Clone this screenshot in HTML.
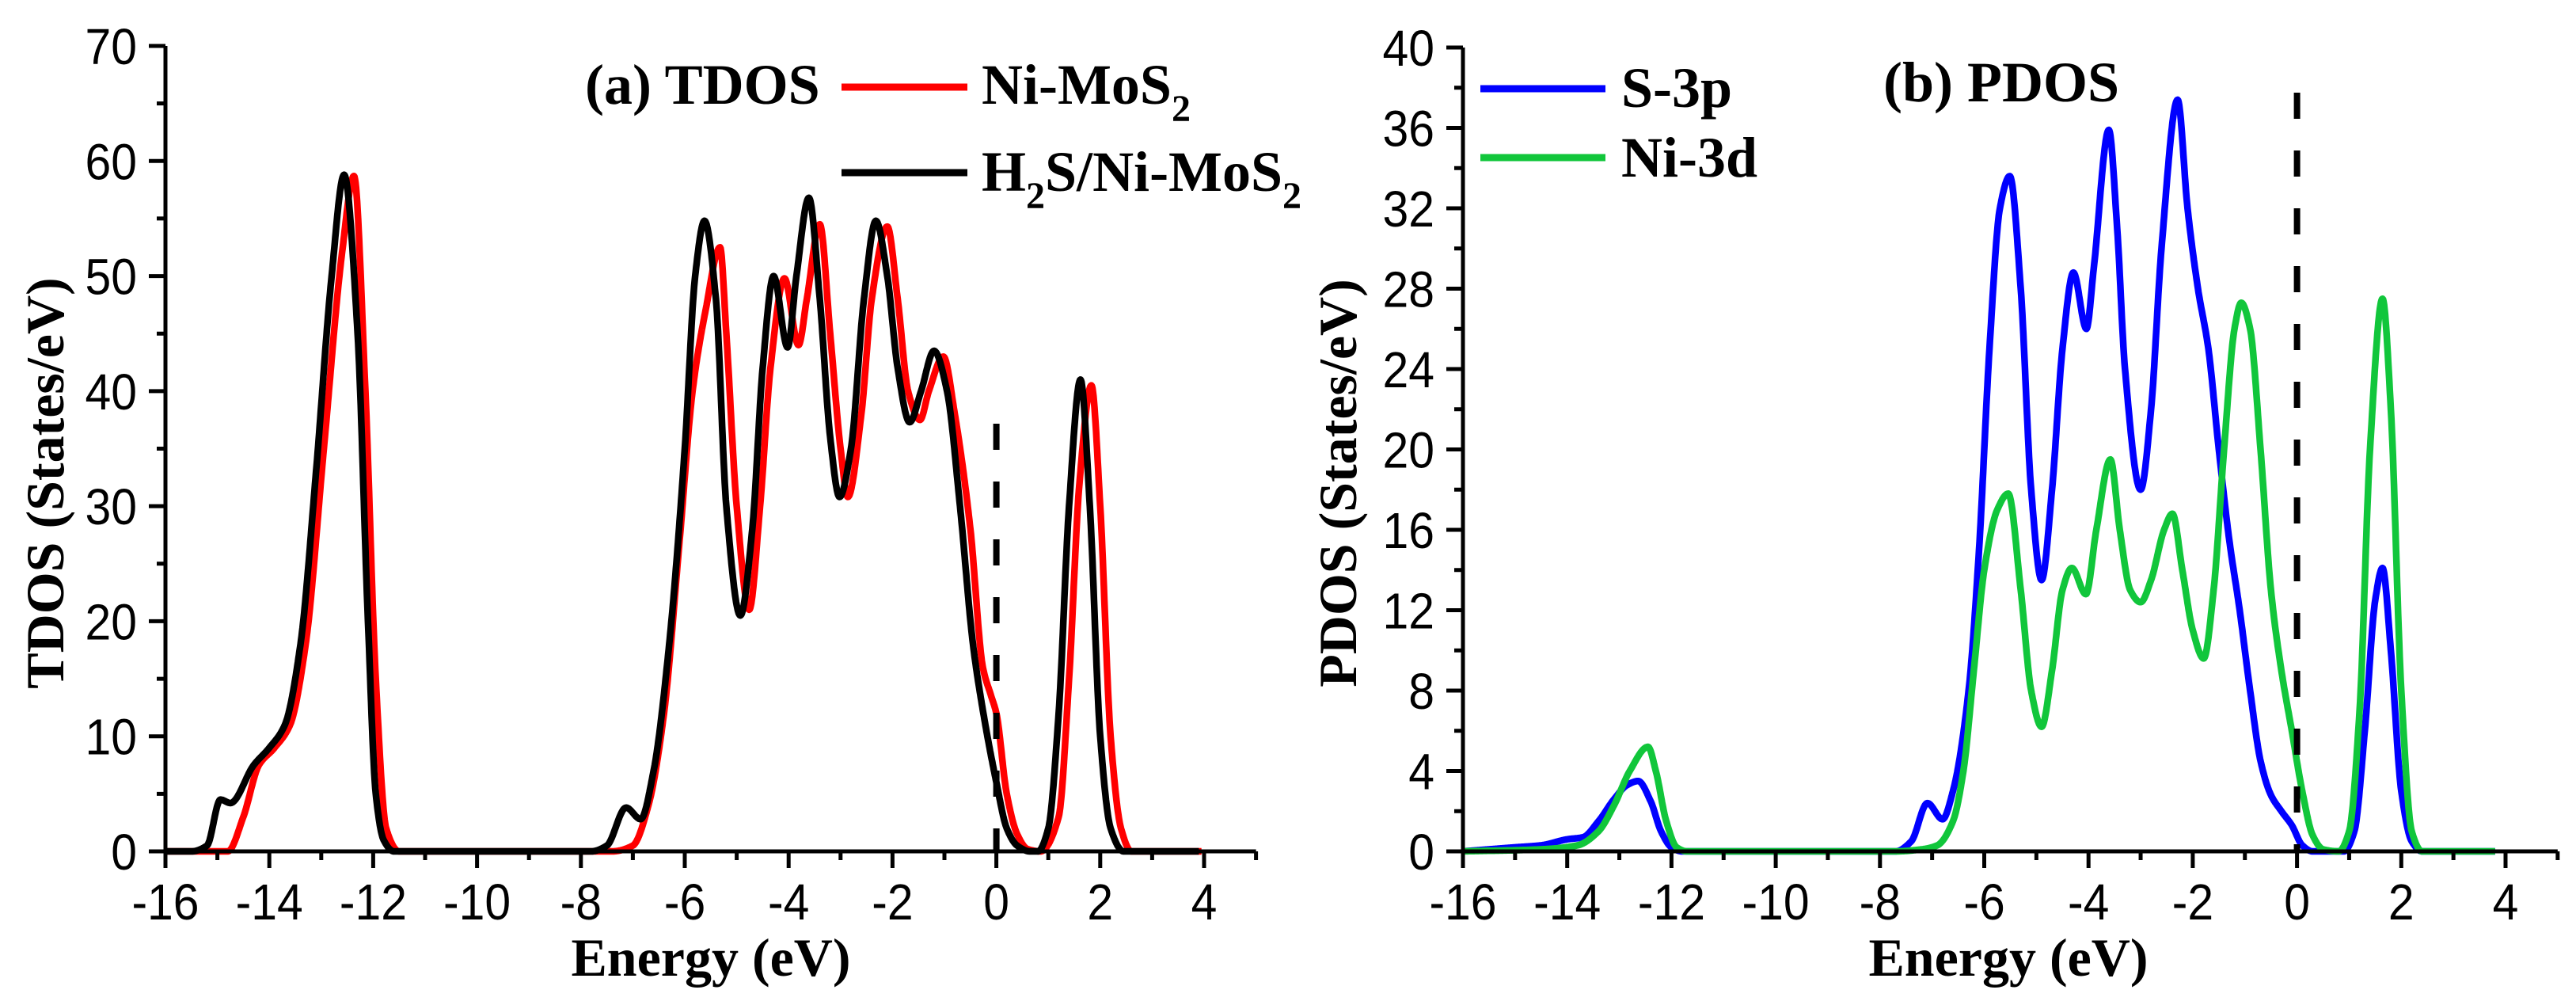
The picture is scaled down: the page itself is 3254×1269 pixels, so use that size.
<!DOCTYPE html>
<html><head><meta charset="utf-8"><style>
html,body{margin:0;padding:0;background:#fff;}
svg{display:block;}
.tk{font-family:"Liberation Sans",Arial,sans-serif;font-size:64px;fill:#000;}
.tt{font-family:"Liberation Serif","Times New Roman",serif;font-weight:bold;fill:#000;}
</style></head><body>
<svg id="chart" width="3254" height="1269" viewBox="0 0 3254 1269" xmlns="http://www.w3.org/2000/svg">
<g id="pa"></g>
<g id="pb"></g>
</svg>
<script>
// ---- data (energy eV, states/eV) ----
const niE=[-16,-14.8,-14.5,-14.2,-13.9,-13.6,-13.3,-12.95,-12.6,-12.37,-12.15,-11.95,-11.75,-11.5,-7.4,-7.0,-6.7,-6.4,-6.1,-5.85,-5.6,-5.32,-5.2,-5.0,-4.76,-4.55,-4.35,-4.08,-3.81,-3.65,-3.4,-3.2,-3.0,-2.86,-2.6,-2.4,-2.1,-1.9,-1.7,-1.47,-1.3,-1.02,-0.8,-0.5,-0.26,-0.1,0.0,0.2,0.4,0.6,0.85,1.2,1.4,1.6,1.83,2.0,2.2,2.4,2.6,3.95];
const niV=[0,0,3,7.5,9,11,18,35,52,58.7,40,15,2,0,0,0.5,4,12,27,40,47,52.5,45,30,21,30,42,49.8,44,48,54.5,45,35,30.8,38,48,54.3,48,40,37.5,40,43,38,28,16,13.5,12,5,1.5,0.2,0,3,15,32,40.5,30,10,2,0,0];
const hsE=[-16,-15.5,-15.2,-14.94,-14.75,-14.3,-14.0,-13.7,-13.4,-13.1,-12.8,-12.56,-12.3,-12.1,-11.95,-11.8,-11.6,-7.8,-7.5,-7.13,-6.85,-6.6,-6.3,-6.0,-5.8,-5.62,-5.4,-5.2,-4.93,-4.7,-4.5,-4.29,-4.02,-3.85,-3.61,-3.4,-3.2,-3.02,-2.8,-2.55,-2.32,-2.1,-1.9,-1.67,-1.45,-1.2,-0.95,-0.7,-0.45,-0.25,0,0.2,0.4,0.65,0.8,1.0,1.2,1.4,1.62,1.8,2.0,2.2,2.45,3.9];
const hsV=[0,0,0.5,4.5,4.2,7.5,9,11,18,33,50,58.8,45,20,5,1,0,0,0.5,3.8,2.8,7,18,35,50,54.8,48,30,20.5,28,42,50,43.8,50,56.8,48,36,30.8,35,48,54.8,50,42,37.3,40,43.5,40,30,18,12,6,2,0.5,0,0,2,12,30,41,30,10,2,0,0];
const s3pE=[-16,-15,-14.5,-14,-13.7,-13.4,-13.1,-12.85,-12.64,-12.4,-12.2,-12.0,-11.8,-7.7,-7.4,-7.09,-6.8,-6.6,-6.3,-6.1,-5.9,-5.7,-5.51,-5.3,-5.1,-4.9,-4.7,-4.5,-4.29,-4.04,-3.9,-3.61,-3.45,-3.3,-3.0,-2.8,-2.6,-2.29,-2.1,-1.9,-1.7,-1.5,-1.3,-1.1,-0.9,-0.7,-0.5,-0.3,-0.1,0.1,0.3,0.9,1.1,1.3,1.5,1.64,1.8,2.0,2.2,2.4,3.8];
const s3pV=[0,0.2,0.3,0.6,0.7,1.5,2.6,3.3,3.5,2.5,1,0.2,0,0,0.5,2.4,1.6,3,8,15,25,32,33.6,28,18,13.5,18,25,28.8,26,29,35.9,31,24,18,22,30,37.4,32,28,25,20,15.5,12,8,4.5,2.8,2,1.3,0.3,0,0,1,6,12.5,14.1,10,3,0.5,0,0];
const ni3dE=[-16,-14.5,-13.8,-13.4,-13.1,-12.8,-12.45,-12.3,-12.1,-11.9,-11.7,-7.7,-7.2,-6.9,-6.6,-6.4,-6.2,-6.0,-5.75,-5.54,-5.3,-5.1,-4.9,-4.7,-4.5,-4.32,-4.05,-3.85,-3.58,-3.4,-3.2,-3.0,-2.8,-2.55,-2.39,-2.2,-2.0,-1.79,-1.6,-1.4,-1.2,-1.07,-0.9,-0.7,-0.5,-0.3,-0.1,0.1,0.3,0.5,0.8,1.0,1.2,1.4,1.64,1.8,2.0,2.2,2.4,3.8];
const ni3dV=[0,0.1,0.3,1,2.3,4,5.2,4,1.5,0.2,0,0,0.1,0.3,1.5,4,9,14,17,17.8,13,8,6.2,9,13,14.1,12.8,16,19.5,16,13,12.4,13.5,16,16.8,14,11,9.6,13,20,26,27.3,26,20,13,9,6,3,0.8,0.1,0,1,7,20,27.5,22,8,1,0,0];
const xTicks=[-16,-14,-12,-10,-8,-6,-4,-2,0,2,4];
const yTicksA=[0,10,20,30,40,50,60,70];
const yTicksB=[0,4,8,12,16,20,24,28,32,36,40];

const NS="http://www.w3.org/2000/svg";
function mk(parent,tag,attrs,text){const e=document.createElementNS(NS,tag);for(const k in attrs)e.setAttribute(k,attrs[k]);if(text!==undefined)e.textContent=text;parent.appendChild(e);return e;}

function mono(xs,ys){
  const n=xs.length,d=[],m=new Array(n);
  for(let i=0;i<n-1;i++)d.push((ys[i+1]-ys[i])/(xs[i+1]-xs[i]));
  m[0]=d[0];m[n-1]=d[n-2];
  for(let i=1;i<n-1;i++){ if(d[i-1]*d[i]<=0)m[i]=0; else {const h0=xs[i]-xs[i-1],h1=xs[i+1]-xs[i];const w1=2*h1+h0,w2=h1+2*h0;m[i]=(w1+w2)/(w1/d[i-1]+w2/d[i]);} }
  return function(x){let i=0;while(i<n-2&&x>xs[i+1])i++;const h=xs[i+1]-xs[i],t=(x-xs[i])/h;const t2=t*t,t3=t2*t;
    return (2*t3-3*t2+1)*ys[i]+(t3-2*t2+t)*h*m[i]+(-2*t3+3*t2)*ys[i+1]+(t3-t2)*h*m[i+1];};
}

function panel(g,o){
  const X=v=>o.x0+(v+16)*o.kx, Y=v=>1075-v*o.ky;
  o.series.forEach(s=>{
    const f=mono(s.E,s.V);let d="";const a=s.E[0],b=s.E[s.E.length-1];
    for(let e=a;e<=b+1e-9;e+=0.01){d+=(d?"L":"M")+X(e).toFixed(1)+","+Y(Math.max(0,f(e))).toFixed(1);}
    const p=mk(g,"path",{d:d,fill:"none",stroke:s.c,"stroke-width":8.5,"stroke-linejoin":"round"});
    
    
  });
  const fl=mk(g,"line",{x1:X(0),x2:X(0),y1:o.dashTop,y2:1075,stroke:"#000","stroke-width":8,"stroke-dasharray":"33 40"});
  
  
  const ax=mk(g,"path",{d:`M${X(-16)},${Y(o.ymax)}V1075H${X(5)}`,fill:"none",stroke:"#000","stroke-width":5});
  
  
  let td="";
  for(let v=-16;v<=5;v++){const big=v%2===0;td+=`M${X(v)},1075V${1075+(big?21:11)}`;}
  for(let v=0;v<=o.ymax+1e-9;v+=o.ystep/2){const big=Math.abs(v/o.ystep-Math.round(v/o.ystep))<1e-6;td+=`M${X(-16)},${Y(v)}H${X(-16)-(big?21:11)}`;}
  const tk=mk(g,"path",{d:td,stroke:"#000","stroke-width":5,fill:"none"});
  
  
  xTicks.forEach(v=>{const t=mk(g,"text",{class:"tk","text-anchor":"middle",transform:`translate(${X(v)},1161) scale(0.92,1)`},String(v));
    
    });
  o.yt.forEach(v=>{const t=mk(g,"text",{class:"tk","text-anchor":"end",transform:`translate(${X(-16)-36},${Y(v)+23}) scale(0.92,1)`},String(v));
    
    });
  const xt=mk(g,"text",{class:"tt","font-size":68,"text-anchor":"middle",x:X(-16)+689,y:1232},"Energy (eV)");
  
  
  const yt=mk(g,"text",{class:"tt","font-size":68,"text-anchor":"middle",transform:`translate(${o.ytx},610) rotate(-90)`},o.ytitle);
  
  
}

const pa=document.getElementById("pa"),pb=document.getElementById("pb");
panel(pa,{x0:209,kx:65.6,ky:(1075-58)/70,ymax:70,ystep:10,yt:yTicksA,dashTop:535,ytx:80,ytitle:"TDOS (States/eV)",
  series:[{E:niE,V:niV,c:"#ff0000",name:"ni-mos2-line"},{E:hsE,V:hsV,c:"#000000",name:"h2s-ni-mos2-line"}]});
panel(pb,{x0:1848,kx:65.85,ky:(1075-60)/40,ymax:40,ystep:4,yt:yTicksB,dashTop:117,ytx:1713,ytitle:"PDOS (States/eV)",
  series:[{E:s3pE,V:s3pV,c:"#0000ff",name:"s-3p-line"},{E:ni3dE,V:ni3dV,c:"#11c63b",name:"ni-3d-line"}]});

function lg(g,x1,x2,y,c,name){const l=mk(g,"line",{x1:x1,x2:x2,y1:y,y2:y,stroke:c,"stroke-width":9});
  
  }
const ta=mk(pa,"text",{class:"tt","font-size":72,x:739,y:131},"(a) TDOS");


lg(pa,1063,1222,110,"#ff0000",'legend-swatch-ni-mos2');
const l1=mk(pa,"text",{class:"tt","font-size":72,x:1240,y:131});
l1.innerHTML='Ni-MoS<tspan font-size="48" dy="22">2</tspan>';


lg(pa,1063,1222,218,"#000000",'legend-swatch-h2s-ni-mos2');
const l2=mk(pa,"text",{class:"tt","font-size":72,x:1240,y:241});
l2.innerHTML='H<tspan font-size="48" dy="22">2</tspan><tspan dy="-22">S/Ni-MoS</tspan><tspan font-size="48" dy="22">2</tspan>';



const tb=mk(pb,"text",{class:"tt","font-size":72,x:2379,y:128},"(b) PDOS");


lg(pb,1870,2028,112,"#0000ff",'legend-swatch-s-3p');
const l3=mk(pb,"text",{class:"tt","font-size":72,x:2048,y:135},"S-3p");


lg(pb,1870,2028,199,"#11c63b",'legend-swatch-ni-3d');
const l4=mk(pb,"text",{class:"tt","font-size":72,x:2048,y:223},"Ni-3d");


</script>
</body></html>
